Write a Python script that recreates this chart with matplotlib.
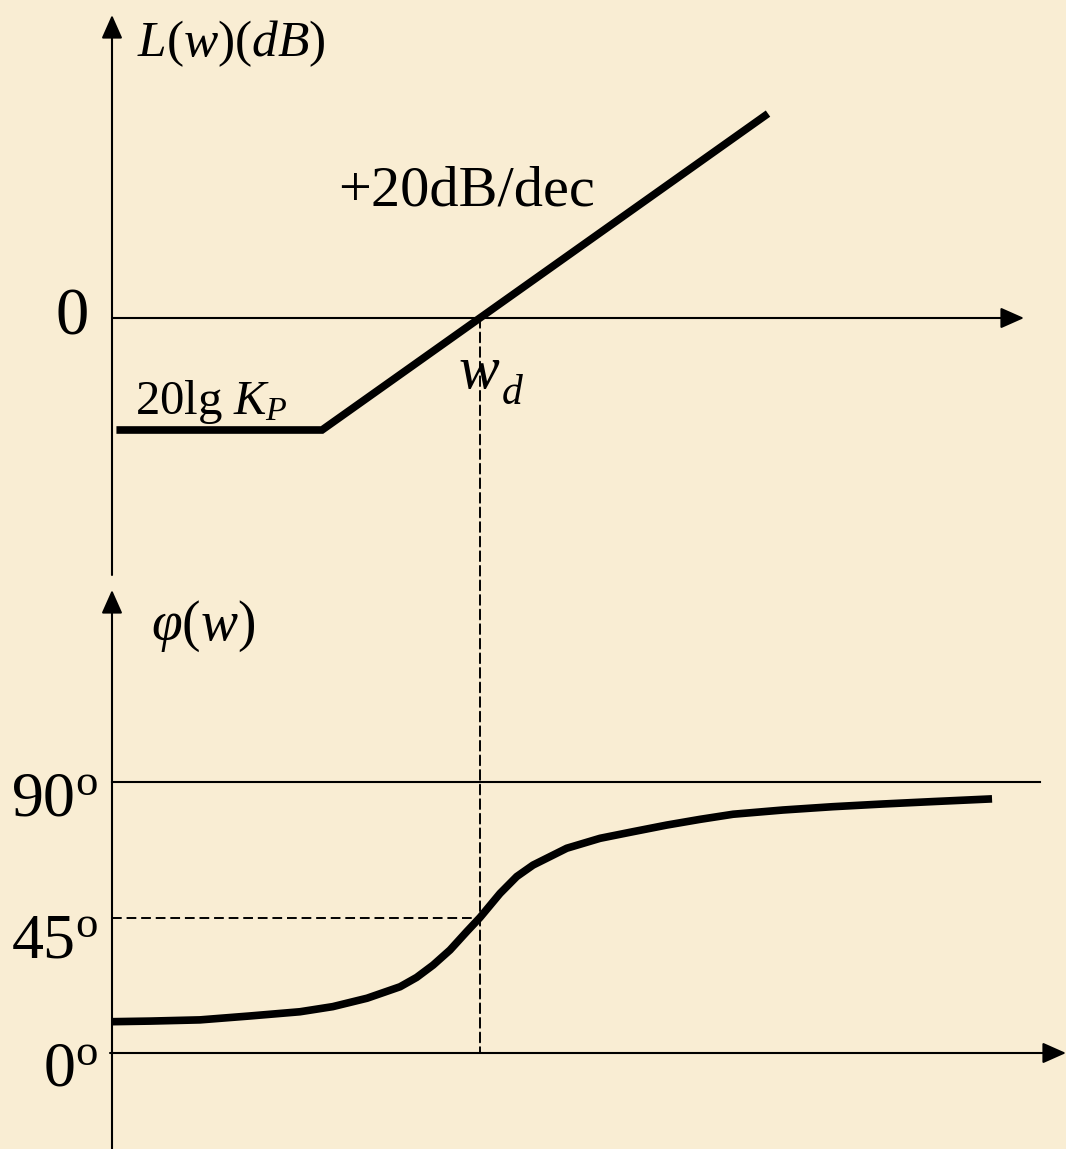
import numpy as np
import matplotlib.pyplot as plt
from matplotlib.patches import ConnectionPatch

plt.rcParams['font.family'] = ['Liberation Serif', 'DejaVu Serif']
plt.rcParams['mathtext.fontset'] = 'custom'
plt.rcParams['mathtext.rm'] = 'Liberation Serif'
plt.rcParams['mathtext.it'] = 'Liberation Serif:italic'
plt.rcParams['mathtext.bf'] = 'Liberation Serif:bold'

# asymptotic magnitude of the PD controller (w normalised to w_d = 1)
mag_w = [0.005, 0.1, 66.5]
mag_db = [-20, -20, 36.5]

# phase curve
phase_w = [0.0047, 0.0082, 0.0169, 0.035, 0.0726, 0.117, 0.193, 0.312,
           0.397, 0.505, 0.646, 0.824, 1.0, 1.339, 1.708, 2.165, 3.54,
           5.75, 9.3, 15.2, 24.7, 40, 82.7, 171, 355, 736, 1741]
phase_deg = [10.4, 10.6, 11.0, 12.3, 13.7, 15.4, 18.2, 22.0,
             25.1, 29.2, 34.2, 40.3, 45.0, 53.0, 58.6, 62.4, 68.0,
             71.3, 73.5, 75.7, 77.6, 79.3, 80.7, 81.8, 82.7, 83.5, 84.4]

w_d = 1.0
phase_marks = [0, 45, 90]
phase_labels = [r'$0^{\rm o}$', r'$45^{\rm o}$', r'$90^{\rm o}$']

W, H = 1066, 1149
bg = '#F9EDD3'


def fx(px):
    return px / W


def fy(py):
    return 1 - py / H


def wpx(px):
    # pixel column -> frequency (158 px per decade, w_d at x=480)
    return 10 ** ((px - 480) / 158)


fig = plt.figure(figsize=(W / 100, H / 100), dpi=100, facecolor=bg)
ax1 = fig.add_axes([0, fy(585), 1, 585 / H])
ax2 = fig.add_axes([0, 0, 1, fy(585)])
for ax in (ax1, ax2):
    ax.set_xscale('log')
    ax.set_xlim(wpx(0), wpx(W))
    ax.axis('off')
    ax.patch.set_alpha(0)
ax1.set_ylim((318 - 585) / 5.6, 318 / 5.6)
ax2.set_ylim((1053 - H) / 3.011, (1053 - 585) / 3.011)

arrow = dict(arrowstyle='-|>,head_length=0.9,head_width=0.4', color='black',
             lw=1.5, mutation_scale=16, shrinkA=0, shrinkB=0)

# magnitude axes
x0 = wpx(112)
ax1.annotate('', xy=(x0, (318 - 15) / 5.6), xytext=(x0, (318 - 575) / 5.6),
             arrowprops=arrow, annotation_clip=False)
ax1.annotate('', xy=(wpx(1024), 0), xytext=(x0, 0),
             arrowprops=arrow, annotation_clip=False)
ax1.plot(mag_w, mag_db, color='black', lw=5.5, solid_joinstyle='miter',
         solid_capstyle='butt')

# phase axes
ax2.annotate('', xy=(x0, (1053 - 590) / 3.011), xytext=(x0, (1053 - H) / 3.011),
             arrowprops=arrow, annotation_clip=False)
ax2.annotate('', xy=(wpx(W), 0), xytext=(wpx(110), 0),
             arrowprops=arrow, annotation_clip=False)
ax2.plot([x0, wpx(1040)], [phase_marks[2]] * 2, color='black', lw=1.5)
ax2.plot([x0, w_d], [phase_marks[1]] * 2, color='black', lw=1.4,
         linestyle=(0, (5, 2.5)))
ax2.plot(phase_w, phase_deg, color='black', lw=5.5, solid_capstyle='butt',
         solid_joinstyle='round')

con = ConnectionPatch(xyA=(w_d, 0), coordsA=ax1.transData,
                      xyB=(w_d, 0), coordsB=ax2.transData,
                      color='black', lw=1.4, linestyle=(0, (5, 2.5)))
fig.add_artist(con)

# labels
fig.text(fx(137), fy(44), r'$L(w)(dB)$', fontsize=37, ha='left', va='center')
fig.text(fx(338), fy(206), '+20dB/dec', fontsize=42, ha='left', va='baseline')
fig.text(fx(89), fy(335), '0', fontsize=48, ha='right', va='baseline')
fig.text(fx(135), fy(414), r'$\mathrm{20lg}\ K_P$', fontsize=35, ha='left',
         va='baseline')
fig.text(fx(459), fy(388), 'w', fontsize=44, fontstyle='italic', ha='left',
         va='baseline')
fig.text(fx(502), fy(404), 'd', fontsize=30, fontstyle='italic', ha='left',
         va='baseline')
fig.text(fx(151), fy(640), r'$\varphi(w)$', fontsize=40, ha='left',
         va='baseline')
for py, lab in zip([1085, 958, 815], phase_labels):
    fig.text(fx(98), fy(py), lab, fontsize=46, ha='right', va='baseline')

fig.savefig('out.png', dpi=100, facecolor=bg)
